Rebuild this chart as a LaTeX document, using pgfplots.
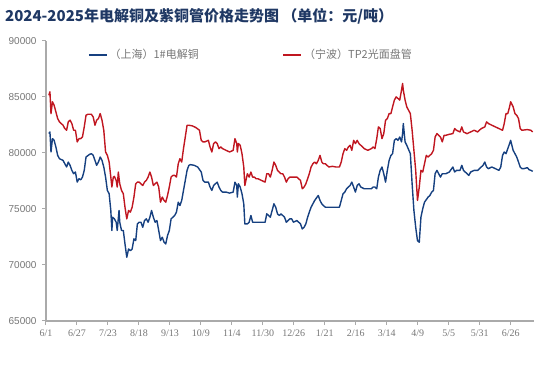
\documentclass[border=0pt]{standalone}
\usepackage{fontspec}
\setmainfont{Liberation Serif}
\newfontfamily\cjk{Noto Sans CJK SC}
\newfontfamily\arialf{Liberation Sans}
\usepackage{pgfplots}
\pgfplotsset{compat=1.18}
\definecolor{cublue}{RGB}{22,64,128}
\definecolor{cured}{RGB}{192,22,32}
\definecolor{axgray}{RGB}{170,170,170}
\definecolor{txgray}{RGB}{118,118,118}
\definecolor{ttl}{RGB}{31,56,100}

\pgfplotstableread{
d v
2.4 81730
3.3 81880
4.2 80090
5.4 81280
6.8 81130
8.3 80540
9.8 79790
11.3 79490
14.3 79340
15.8 79040
17.3 78750
18.7 79190
20.2 78900
21.7 78450
23.2 78150
24.7 78300
26.2 77400
27.7 77700
29.2 77610
30.6 77850
32.1 78450
33.6 79640
36.6 79880
38.1 79940
39.6 79790
41.1 79340
42.5 78900
44.0 79190
45.5 79640
47.0 79340
48.5 78750
50.0 77850
51.5 76660
53.0 76360
54.4 74870
55.3 73080
55.9 74270
57.4 74120
58.9 73820
59.8 73080
60.4 73820
61.3 74870
61.9 73820
63.4 73080
64.9 73080
66.3 71880
67.8 70690
69.3 71430
70.8 71280
72.3 71430
73.8 72330
75.3 72180
76.7 73670
78.2 73820
79.7 73820
81.2 73370
82.7 73970
84.2 74120
85.7 73820
87.2 74270
88.6 74870
90.1 74270
91.6 73820
93.1 73970
94.6 73080
96.1 72180
97.6 72480
99.1 72030
100.5 71880
102.0 72630
103.5 73080
105.0 74120
106.5 74270
108.0 74420
109.5 74720
111.0 75610
112.4 75310
113.9 75760
115.4 76660
116.9 77550
118.4 78450
119.9 78900
121.4 78960
124.4 78900
127.3 78750
130.3 78300
131.8 77550
133.3 77400
136.3 77400
137.7 76960
139.2 76660
140.7 77100
142.2 77250
143.7 77400
145.2 76960
146.7 76660
148.2 76510
151.1 76510
154.1 76420
157.1 76510
158.6 77400
160.1 77100
160.6 76060
161.5 77250
163.0 76960
164.5 76360
166.0 75460
166.9 73670
169.0 73670
170.5 73820
172.0 74420
173.4 73820
174.9 73820
177.9 73820
180.9 73820
183.9 73820
185.3 74570
186.8 74420
188.3 74270
189.8 74870
191.3 75460
192.8 75160
194.3 74570
195.8 74420
197.2 74570
198.7 74420
200.2 74270
201.7 73820
203.2 73970
204.7 74120
206.2 74120
207.7 73820
210.6 73970
213.6 73670
215.1 73220
216.6 73370
218.1 73670
219.6 74270
221.0 74720
222.5 75160
224.0 75460
225.5 75760
228.5 76210
230.0 75760
231.5 75460
232.9 75310
234.4 75160
237.4 75160
240.4 75160
243.3 75160
246.3 75160
247.8 75760
249.3 76360
250.8 76510
252.3 76810
253.8 76960
255.2 77100
256.7 77400
258.2 76960
259.7 76510
261.2 77100
262.7 77250
264.2 76960
267.1 76810
270.1 76810
273.1 76810
274.6 76960
276.1 76960
277.6 76810
279.0 77850
280.5 78450
282.0 78750
283.5 78150
285.0 77400
286.5 78450
288.0 79340
289.5 79790
290.9 79940
292.4 81130
293.9 81280
295.4 81130
296.9 81430
298.4 80990
299.3 81730
299.9 82630
301.4 80990
302.8 80690
305.8 79940
307.3 77250
308.8 74870
310.3 73370
311.8 72180
313.3 72030
314.7 74270
316.2 75020
317.7 75610
320.7 76060
322.2 76210
323.7 76510
325.2 76660
326.6 78150
328.1 78450
329.6 78150
331.1 77850
332.6 78150
335.6 78150
338.5 78300
341.5 78750
343.0 78300
344.5 78450
347.5 78450
349.0 78900
350.4 78450
353.4 78150
354.9 78000
356.4 78300
359.4 78450
362.3 78450
365.3 78750
366.8 78900
368.3 79190
369.8 78750
371.3 78600
374.2 78750
377.2 78600
380.2 78450
381.7 78750
383.2 79790
384.6 80090
386.1 79940
387.6 80390
389.1 80840
390.0 81130
392.1 80240
393.6 79940
395.1 79640
396.6 79190
398.0 78750
399.5 78600
401.0 78600
404.0 78690
405.5 78510
407.0 78450
408.5 78360
}\shanghai

\pgfplotstableread{
d v
2.4 85160
3.3 85460
4.2 83520
5.4 84570
6.8 84270
8.3 83670
9.8 83070
11.3 82780
12.8 82630
14.3 82480
15.8 82180
17.3 82030
18.7 82780
20.2 82930
21.7 82630
23.2 82030
24.7 82030
26.2 80990
27.7 81280
29.2 81280
30.6 81430
32.1 82330
33.6 83370
35.1 83460
38.1 83460
39.6 83220
41.1 82480
42.5 82930
44.0 83070
45.5 83520
47.0 82930
48.5 82030
50.0 80090
51.5 79790
53.0 79190
54.4 77850
55.3 76960
56.5 77850
57.4 77910
58.9 77550
59.8 76960
60.7 78300
61.9 77250
63.4 76660
64.9 76360
66.3 75160
67.8 74120
69.3 74870
70.8 74720
72.3 75160
73.8 76060
75.3 77250
76.7 77400
78.2 77400
79.7 77250
81.2 77100
82.7 77400
84.2 77550
85.7 77850
87.2 78300
88.6 77850
90.1 77100
91.6 77250
93.1 77400
94.6 76960
96.1 75610
97.6 76060
99.1 75760
100.5 75610
102.0 76210
103.5 76960
105.0 77850
106.5 78000
108.0 78000
109.5 77850
111.0 79040
112.4 79490
113.9 79190
115.4 80390
116.9 81430
118.4 82480
119.9 82480
122.9 82420
125.8 82270
128.8 82030
130.3 81130
131.8 80990
133.3 80990
136.3 81130
137.7 80540
139.2 80090
140.7 80840
142.2 80990
143.7 80840
145.2 80390
146.7 80540
148.2 80390
151.1 80240
154.1 80090
157.1 80240
158.6 81280
160.1 80840
160.6 80090
161.5 80840
163.0 80690
164.5 79940
166.0 78750
166.9 77100
169.0 78150
170.5 77850
172.0 78300
173.4 77850
174.9 77850
176.4 77700
177.9 77700
180.9 77550
183.9 77400
185.3 78150
186.8 78150
188.3 77850
189.8 78450
191.3 79190
192.8 78900
194.3 78450
195.8 78300
197.2 78150
198.7 78150
200.2 77850
201.7 77400
203.2 77700
204.7 77850
207.7 77850
210.6 77850
213.6 77550
215.1 76810
216.6 76960
218.1 77250
219.6 77700
221.0 78150
222.5 78750
224.0 79040
225.5 79190
227.0 79040
228.5 79340
230.0 79790
231.5 79190
232.9 79040
234.4 79040
237.4 78750
240.4 78810
243.3 78750
246.3 78750
247.8 79190
249.3 79940
250.8 80390
252.3 80240
253.8 80540
255.2 80690
256.7 80240
258.2 81130
259.7 80840
261.2 81130
262.7 80840
264.2 80690
267.1 80390
270.1 80240
273.1 80390
274.6 80540
276.1 80390
277.6 81280
279.0 82330
280.5 82180
282.0 81280
283.5 81730
285.0 82930
286.5 83070
288.0 83520
289.5 83520
290.9 84120
292.4 84720
293.9 85010
295.4 84870
296.9 84720
298.4 85610
299.3 86210
299.9 85610
301.4 84720
302.8 84120
304.3 83820
305.8 83520
307.3 82030
308.8 80240
310.3 78450
311.8 75760
313.3 76960
314.7 78450
316.2 78300
317.7 79040
319.2 79790
320.7 79640
322.2 79790
323.7 79940
325.2 80240
326.6 81430
328.1 81730
329.6 81580
331.1 81430
332.6 80990
334.1 81580
335.6 81580
338.5 81670
341.5 81730
343.0 82180
344.5 82030
347.5 81880
349.0 82330
350.4 81880
353.4 81730
356.4 81880
359.4 82030
362.3 81880
365.3 82180
368.3 82330
369.8 82780
371.3 82630
374.2 82480
377.2 82330
380.2 82180
383.2 82030
384.6 82630
386.1 83520
387.6 83520
389.1 84120
390.0 84570
392.1 84120
393.6 83520
395.1 83370
396.6 83070
398.0 82180
399.5 82030
404.0 82090
407.0 82030
408.5 81880
}\ningbo

\begin{document}
\begin{tikzpicture}
\path[use as bounding box] (0,0) rectangle (554pt,364pt);
\node[anchor=west, text=ttl, font=\cjk\bfseries\fontsize{15}{18}\selectfont, inner sep=0pt] at (5pt,348pt) {2024-2025年电解铜及紫铜管价格走势图 （单位：元/吨）};
\begin{axis}[
  at={(46pt,43pt)}, anchor=south west,
  scale only axis, width=488pt, height=280pt,
  xmin=0, xmax=409.6, ymin=65000, ymax=90000,
  axis x line*=bottom, axis y line*=left,
  axis line style={axgray, line width=1.3pt, -},
  xtick={0,26,...,390},
  xticklabels={6/1,6/27,7/23,8/18,9/13,10/9,11/4,11/30,12/26,1/21,2/16,3/14,4/9,5/5,5/31,6/26},
  ytick={65000,70000,75000,80000,85000,90000},
  yticklabels={65000,70000,75000,80000,85000,90000},
  scaled y ticks=false,
  tick align=outside, major tick length=4pt,
  tick style={axgray, line width=1pt},
  yticklabel style={font=\arialf\fontsize{10}{12}\selectfont, text=txgray, xshift=-2pt},
  xticklabel style={font=\fontsize{10}{12}\selectfont, text=txgray, yshift=-1pt},
  legend columns=2,
  legend style={at={(0.086,0.95)}, anchor=west, draw=none, fill=none,
    font=\cjk\fontsize{11}{13}\selectfont, inner sep=0pt,
    /tikz/every even column/.append style={column sep=82pt}},
  legend image code/.code={\draw[#1] (0pt,0pt) -- (18pt,0pt);},
]
\addplot[cublue, line width=1.4pt, line join=round] table[x=d, y=v] {\shanghai};
\addlegendentry{\textcolor{txgray}{（上海）1\#电解铜}}
\addplot[cured, line width=1.4pt, line join=round] table[x=d, y=v] {\ningbo};
\addlegendentry{\textcolor{txgray}{（宁波）TP2光面盘管}}
\end{axis}
\end{tikzpicture}
\end{document}
